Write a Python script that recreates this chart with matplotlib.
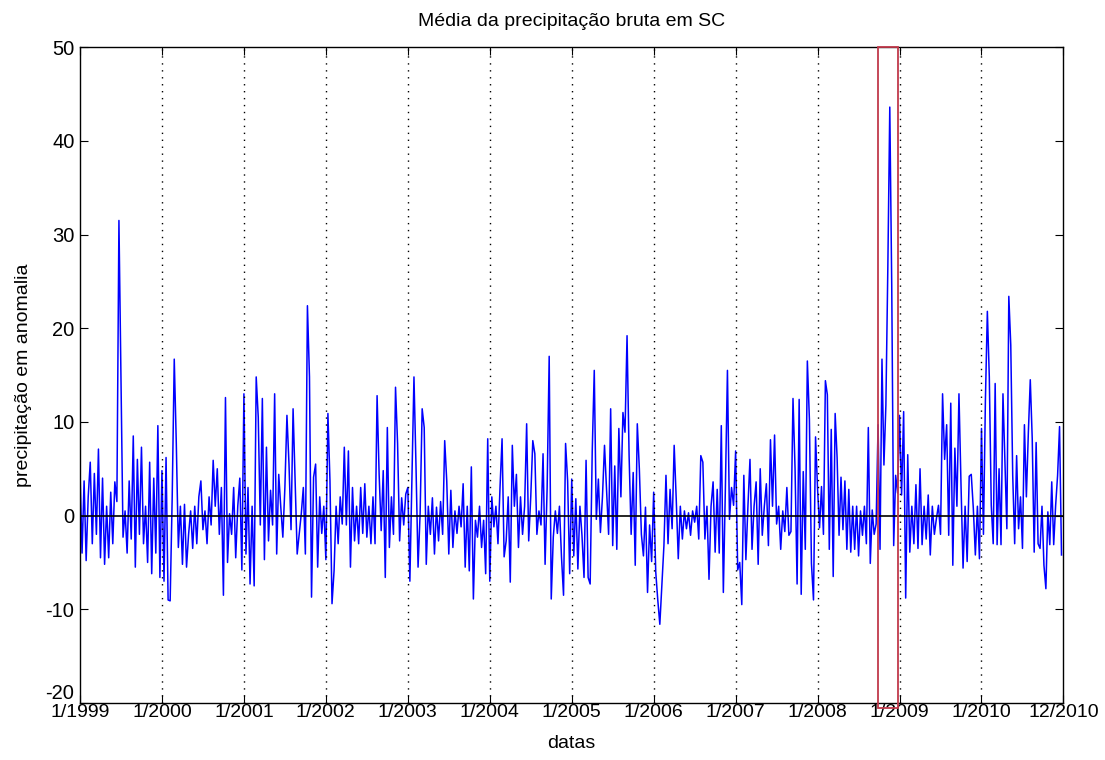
import numpy as np
import matplotlib
matplotlib.use('Agg')
from matplotlib import pyplot as plt
from matplotlib.patches import Rectangle

plt.rcParams['font.family'] = ['Liberation Sans', 'DejaVu Sans']
plt.rcParams['axes.unicode_minus'] = False

# anomalia de precipitacao, ~40 valores por ano
y1999 = [4.8, -4.0, 3.7, -4.8, 2.0, 5.7, -3.0, 4.5, -2.0, 7.1, -4.5, 4.0, -5.2, 1.0, -4.5, 2.5, -3.0, 3.6, 1.5, 31.5,
         14.4, -2.3, 0.5, -4.0, 3.7, -2.5, 8.5, -5.5, 6.0, -2.0, 7.3, -3.0, 1.0, -5.0, 5.7, -6.2, 4.0, -4.0, 9.6, -6.6]
y2000 = [4.8, -7.0, 6.2, -9.0, -9.1, 2.0, 16.7, 7.7, -3.4, 1.0, -5.2, 1.2, -5.5, -2.0, 0.5, -3.5, 1.0, -3.0, 2.0, 3.7,
         -1.5, 0.5, -3.0, 2.0, -1.0, 5.9, 1.0, 5.0, -2.0, 3.0, -8.5, 12.6, -5.0, 0.2, -2.0, 3.0, -4.5, 1.0, 4.0, -5.8]
y2001 = [13.0, -4.1, 3.0, -7.3, 1.0, -7.5, 14.8, 10.5, -1.0, 12.5, -4.7, 7.3, -2.7, 2.7, -1.0, 13.0, -4.1, 4.4, 0.9, -2.3,
         3.0, 10.7, 5.5, -1.5, 11.4, 3.7, -4.1, -1.9, 0.2, 3.0, -4.1, 22.4, 14.8, -8.7, 4.1, 5.5, -5.5, 2.0, -1.9, 1.0]
y2002 = [-4.7, 10.9, 3.7, -9.4, -5.9, 1.0, -3.0, 2.0, -0.9, 7.3, -1.0, 6.9, -5.5, 3.0, -2.7, 1.0, -3.0, 3.0, -1.9, 3.4,
         -2.3, 1.0, -3.0, 2.0, -3.0, 12.8, 4.4, -1.6, 4.8, -6.6, 9.4, -3.4, 2.0, -2.0, 13.7, 7.7, -2.7, 1.9, -1.0, 2.3]
y2003 = [3.0, -7.0, 4.0, 14.8, 5.2, -5.5, 0.2, 11.4, 9.4, -5.2, 1.0, -2.0, 1.9, -4.1, 0.9, -2.7, 1.5, -2.0, 8.0, 3.7,
         -4.1, 2.7, -3.4, 0.5, -1.9, 1.0, -1.2, 3.4, -5.5, 1.0, -5.9, 5.2, -8.9, -0.5, -2.3, 1.0, -3.4, -0.5, -6.2, 8.2]
y2004 = [-7.0, 2.0, -1.2, 1.0, -3.0, 3.0, 8.2, -4.4, -2.7, 2.0, -7.1, 7.5, 1.0, 4.4, -3.4, 2.0, -2.0, 1.0, 9.8, -2.7,
         2.0, 8.0, 6.6, -2.0, 0.5, -1.0, 6.6, -5.2, 3.0, 17.0, -8.9, -2.3, 0.5, -1.9, 1.0, -4.4, -8.5, 7.7, 3.7, -6.2]
y2005 = [3.9, -4.3, 1.8, -5.7, 1.0, -2.1, -6.6, 5.9, -6.6, -7.3, 6.8, 15.5, -0.4, 3.9, -1.8, 2.0, 7.5, 2.8, -2.0, 11.4,
         -3.2, 5.3, -3.6, 9.3, 2.0, 11.0, 8.9, 19.2, 6.4, -2.0, 4.6, -5.3, 9.8, 5.0, -2.0, -4.3, 0.9, -8.2, -1.0, -4.9]
y2006 = [2.5, -6.0, -9.0, -11.6, -7.4, -3.2, 4.3, -3.0, 2.8, -1.4, 7.5, 1.8, -4.6, 1.0, -2.5, 0.5, -1.4, 0.3, -2.1, 0.5,
         -0.7, 1.0, -2.5, 6.4, 5.7, -2.5, 1.0, -6.8, 1.0, 3.6, -3.9, 2.8, -4.0, 9.6, -8.2, 3.0, 15.5, -0.4, 3.0, 1.1]
y2007 = [6.9, -5.8, -5.0, -9.5, 4.3, -4.7, 1.0, 6.0, -3.6, 1.0, 3.6, -5.2, 5.0, -2.1, 1.0, 3.4, -3.2, 8.1, 1.0, 8.6,
         -0.9, 1.0, -3.6, 0.5, -1.7, 3.0, -2.1, -1.7, 12.5, 5.0, -7.3, 12.4, -8.4, 4.7, -3.6, 16.5, 10.3, -5.1, -9.0, 8.4]
y2008 = [2.8, -1.3, 3.1, -2.0, 14.4, 12.9, -3.6, 9.2, -6.5, 10.9, 6.2, -2.1, 4.1, -1.5, 3.7, -3.6, 2.8, -3.9, 1.0, -3.6,
         1.0, -4.3, 0.5, -2.1, 1.0, -3.0, 9.4, -5.1, 0.6, -2.0, -0.9, 9.7, -3.6, 16.7, 5.4, 11.8, 26.5, 43.6, 24.5, -3.2,
         4.3, 2.4]
y2009 = [10.7, 2.2, 11.1, -8.8, 6.5, -3.9, 1.0, -3.0, 3.3, -3.5, 5.0, -3.1, 1.0, -2.5, 2.2, -4.2, 1.0, -2.0, -0.3, 1.1,
         -2.0, 13.0, 6.0, 9.7, -2.1, 12.0, -5.3, 7.2, 1.0, 13.0, 3.3, -5.6, 1.0, -4.9, 4.2, 4.4, 0.8, -4.2, 1.0, -4.6]
y2010 = [9.3, -2.0, 12.3, 21.8, 14.8, 1.1, -3.0, 14.1, -3.1, 5.0, -3.1, 13.0, 5.7, -1.4, 23.4, 18.2, 4.3, -3.0, 6.4, -1.4,
         2.0, -3.5, 9.7, 2.0, 8.8, 14.5, 8.2, -3.9, 7.8, -3.0, -3.5, 1.0, -5.3, -7.8, 0.4, -3.1, 3.6, -3.1, 1.1, 4.3,
         9.5, -4.2]

anos = list(range(1999, 2011))
series = [y1999, y2000, y2001, y2002, y2003, y2004, y2005, y2006, y2007, y2008, y2009, y2010]

tick_pos = list(range(1999, 2012))
tick_labels = ['1/%d' % a for a in range(1999, 2011)] + ['12/2010']

# tempo em anos fracionarios
t = []
v = []
for ano, vals in zip(anos, series):
    n = len(vals)
    t += [ano + i / n for i in range(n)]
    v += vals
t = np.array(t)
v = np.array(v)

fig = plt.figure(figsize=(11.05, 7.6), dpi=100)
ax = fig.add_axes([0.0724, 0.075, 0.890, 0.863])

ax.plot(t, v, color='#0000ff', lw=1.1)
ax.axhline(0, color='black', lw=1.2)

for x in tick_pos[1:-1]:
    ax.axvline(x, color='black', ls=(0, (1, 4)), lw=1.0)

# destaque novembro 2008
ax.add_patch(Rectangle((2008.74, -20.5), 0.24, 70.5, fill=False,
                       edgecolor='#c0394b', lw=1.3, clip_on=False, zorder=5))

ax.set_xlim(1999, 2011)
ax.set_ylim(-20, 50)
ax.set_xticks(tick_pos)
ax.set_xticklabels(tick_labels)
ax.set_yticks(range(-20, 51, 10))
ax.tick_params(direction='in', top=True, right=True, length=6, labelsize=14.5)
ax.tick_params(axis='y', pad=4)
ax.tick_params(axis='x', labelsize=14, pad=1)
ax.get_yticklabels()[0].set_va('bottom')
for s in ax.spines.values():
    s.set_linewidth(1.0)

ax.set_title('Média da precipitação bruta em SC', fontsize=14, pad=15)
ax.set_xlabel('datas', fontsize=14, labelpad=10)
ax.set_ylabel('precipitação em anomalia', fontsize=14, labelpad=10)

fig.savefig('out.png', dpi=100)
